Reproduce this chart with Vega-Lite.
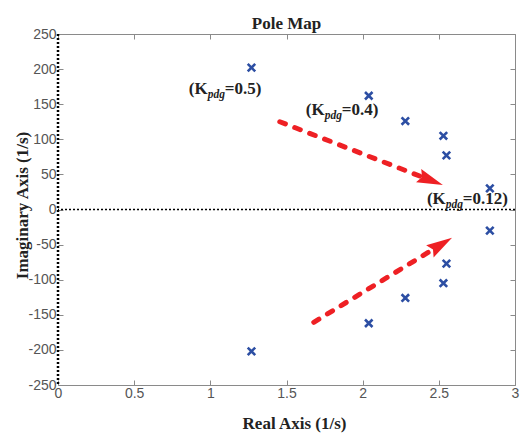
{
  "$schema": "https://vega.github.io/schema/vega-lite/v6.json",
  "width": 457,
  "height": 351,
  "autosize": "none",
  "padding": {"left": 58, "top": 34, "right": 7, "bottom": 51},
  "background": "white",
  "title": {"text": "Pole Map", "font": "Liberation Serif", "fontSize": 17, "fontWeight": "bold", "color": "#222222", "anchor": "middle", "baseline": "alphabetic", "offset": 7, "dy": 26},
  "config": {
    "view": {"stroke": null},
    "axis": {"domainColor": "#8a8a8a", "tickColor": "#8a8a8a", "labelColor": "#555555", "labelFont": "Liberation Sans", "labelFontSize": 14, "titleFont": "Liberation Serif", "titleFontSize": 17, "titleFontWeight": "bold", "titleColor": "#222222", "tickSize": -5, "grid": false, "labelFlush": false, "labelOverlap": false}
  },
  "datasets": {
    "poles": [
      {"re": 1.27, "im": 202}, {"re": 1.27, "im": -202},
      {"re": 2.04, "im": 162}, {"re": 2.04, "im": -162},
      {"re": 2.28, "im": 126}, {"re": 2.28, "im": -126},
      {"re": 2.53, "im": 105}, {"re": 2.53, "im": -105},
      {"re": 2.55, "im": 77}, {"re": 2.55, "im": -77},
      {"re": 2.835, "im": 30}, {"re": 2.835, "im": -30}
    ],
    "arrows": [
      {"arrow": "up", "re": 1.456, "im": 125}, {"arrow": "up", "re": 2.391, "im": 46.3},
      {"arrow": "down", "re": 1.679, "im": -160.7}, {"arrow": "down", "re": 2.464, "im": -56.6}
    ],
    "heads": [
      {"arrow": "up", "re": 2.447, "im": 41.6},
      {"arrow": "down", "re": 2.514, "im": -49.9}
    ],
    "labels": [
      {"re": 0.983, "im": 164.5, "tail": "=0.5)"},
      {"re": 1.751, "im": 134.6, "tail": "=0.4)"},
      {"re": 2.546, "im": 7.8, "tail": "=0.12)"}
    ],
    "zeroline": [{"re": 0, "im": 0}]
  },
  "layer": [
    {
      "data": {"name": "zeroline"},
      "mark": {"type": "rule", "stroke": "#000000", "strokeWidth": 1.5, "strokeDash": [2, 2]},
      "encoding": {"y": {"field": "im", "type": "quantitative", "scale": {"domain": [-250, 250], "nice": false, "zero": false}, "axis": null}}
    },
    {
      "data": {"name": "zeroline"},
      "mark": {"type": "rule", "stroke": "#000000", "strokeWidth": 2.5, "strokeDash": [2, 2]},
      "encoding": {"x": {"field": "re", "type": "quantitative", "scale": {"domain": [0, 3], "nice": false, "zero": false}, "axis": null}}
    },
    {
      "data": {"name": "arrows"},
      "mark": {"type": "line", "stroke": "#ee2024", "strokeWidth": 5, "strokeCap": "round", "strokeDash": [6, 10]},
      "encoding": {
        "x": {"field": "re", "type": "quantitative", "scale": {"domain": [0, 3], "nice": false, "zero": false}, "axis": null},
        "y": {"field": "im", "type": "quantitative", "scale": {"domain": [-250, 250], "nice": false, "zero": false}, "axis": null},
        "detail": {"field": "arrow"}
      }
    },
    {
      "data": {"name": "heads"},
      "transform": [{"filter": "datum.arrow == 'up'"}],
      "mark": {"type": "point", "shape": "M1,0L-1,-0.55L-0.72,0L-1,0.55Z", "filled": true, "color": "#ee2024", "opacity": 1, "size": 676, "angle": 21.2, "strokeWidth": 0},
      "encoding": {
        "x": {"field": "re", "type": "quantitative", "scale": {"domain": [0, 3], "nice": false, "zero": false}, "axis": null},
        "y": {"field": "im", "type": "quantitative", "scale": {"domain": [-250, 250], "nice": false, "zero": false}, "axis": null}
      }
    },
    {
      "data": {"name": "heads"},
      "transform": [{"filter": "datum.arrow == 'down'"}],
      "mark": {"type": "point", "shape": "M1,0L-1,-0.55L-0.72,0L-1,0.55Z", "filled": true, "color": "#ee2024", "opacity": 1, "size": 676, "angle": 328.5, "strokeWidth": 0},
      "encoding": {
        "x": {"field": "re", "type": "quantitative", "scale": {"domain": [0, 3], "nice": false, "zero": false}, "axis": null},
        "y": {"field": "im", "type": "quantitative", "scale": {"domain": [-250, 250], "nice": false, "zero": false}, "axis": null}
      }
    },
    {
      "data": {"name": "poles"},
      "mark": {"type": "point", "shape": "M-1,-1L1,1M-1,1L1,-1", "filled": false, "stroke": "#2c4ea3", "strokeWidth": 2.6, "size": 56, "opacity": 1},
      "encoding": {
        "x": {"field": "re", "type": "quantitative", "scale": {"domain": [0, 3], "nice": false, "zero": false},
          "axis": {"orient": "bottom", "values": [0, 0.5, 1, 1.5, 2, 2.5, 3], "labelExpr": "'' + datum.value", "labelPadding": 6, "title": "Real Axis (1/s)", "titleX": 236, "titleY": 43, "titleBaseline": "alphabetic"}},
        "y": {"field": "im", "type": "quantitative", "scale": {"domain": [-250, 250], "nice": false, "zero": false},
          "axis": {"orient": "left", "values": [-250, -200, -150, -100, -50, 0, 50, 100, 150, 200, 250], "labelExpr": "'' + datum.value", "labelPadding": 7, "domain": false, "title": "Imaginary Axis (1/s)", "titleX": -31, "titleY": 171, "titleBaseline": "alphabetic", "titleAlign": "center"}}
      }
    },
    {
      "data": {"name": "poles"},
      "mark": {"type": "point", "opacity": 0},
      "encoding": {
        "x": {"field": "re", "type": "quantitative", "scale": {"domain": [0, 3], "nice": false, "zero": false},
          "axis": {"orient": "top", "values": [0, 0.5, 1, 1.5, 2, 2.5, 3], "labels": false, "title": null}},
        "y": {"field": "im", "type": "quantitative", "scale": {"domain": [-250, 250], "nice": false, "zero": false},
          "axis": {"orient": "right", "values": [-250, -200, -150, -100, -50, 0, 50, 100, 150, 200, 250], "labels": false, "title": null}}
      }
    },
    {
      "data": {"name": "labels"},
      "mark": {"type": "text", "font": "Liberation Serif", "fontSize": 17, "fontWeight": "bold", "color": "#222222", "align": "right", "baseline": "alphabetic"},
      "encoding": {
        "x": {"field": "re", "type": "quantitative", "scale": {"domain": [0, 3], "nice": false, "zero": false}, "axis": null},
        "y": {"field": "im", "type": "quantitative", "scale": {"domain": [-250, 250], "nice": false, "zero": false}, "axis": null},
        "text": {"value": "(K"}
      }
    },
    {
      "data": {"name": "labels"},
      "mark": {"type": "text", "font": "Liberation Serif", "fontSize": 11.5, "fontWeight": "bold", "fontStyle": "italic", "color": "#222222", "align": "left", "baseline": "alphabetic", "dy": 4},
      "encoding": {
        "x": {"field": "re", "type": "quantitative", "scale": {"domain": [0, 3], "nice": false, "zero": false}, "axis": null},
        "y": {"field": "im", "type": "quantitative", "scale": {"domain": [-250, 250], "nice": false, "zero": false}, "axis": null},
        "text": {"value": "pdg"}
      }
    },
    {
      "data": {"name": "labels"},
      "mark": {"type": "text", "font": "Liberation Serif", "fontSize": 17, "fontWeight": "bold", "color": "#222222", "align": "left", "baseline": "alphabetic", "dx": 17},
      "encoding": {
        "x": {"field": "re", "type": "quantitative", "scale": {"domain": [0, 3], "nice": false, "zero": false}, "axis": null},
        "y": {"field": "im", "type": "quantitative", "scale": {"domain": [-250, 250], "nice": false, "zero": false}, "axis": null},
        "text": {"field": "tail"}
      }
    }
  ],
  "resolve": {"axis": {"x": "independent", "y": "independent"}}
}
